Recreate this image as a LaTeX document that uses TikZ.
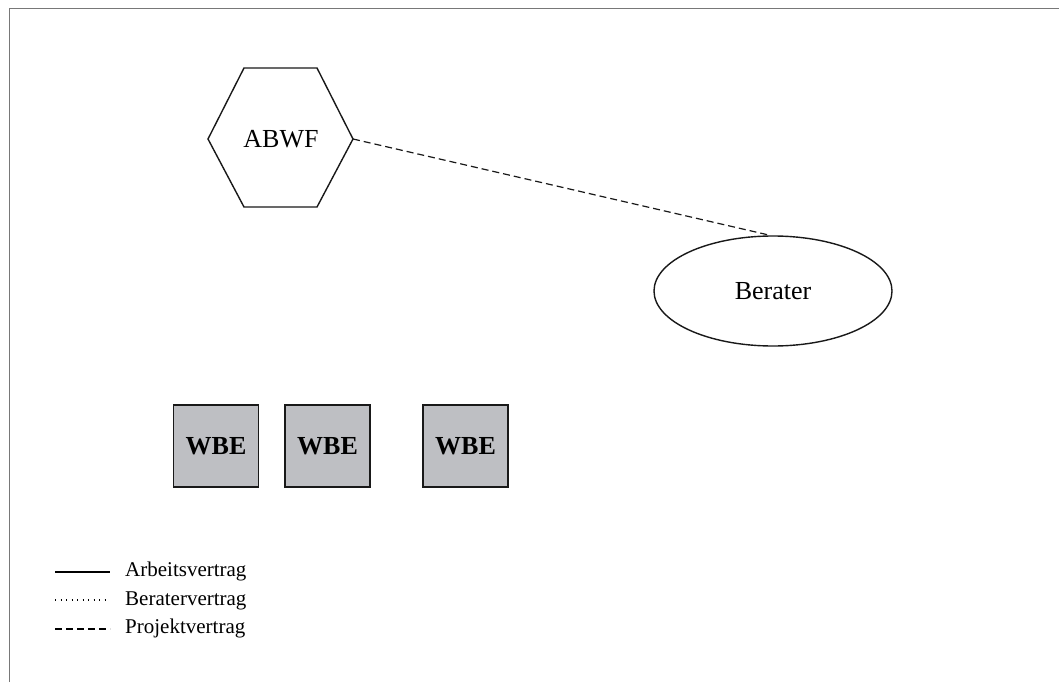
\documentclass[tikz,border=0pt]{standalone}
\usepackage{fontspec}
\setmainfont{Liberation Serif}
\usetikzlibrary{shapes.geometric}
\definecolor{wbegrey}{RGB}{190,191,195}
\definecolor{framegrey}{RGB}{120,120,120}
\begin{document}
\begin{tikzpicture}[x=1pt,y=-1pt,
  shapeline/.style={draw=black!90,line width=1.4pt},
  wbebox/.style={shapeline,fill=wbegrey,minimum width=85pt,minimum height=82pt,
    font=\fontsize{26}{30}\selectfont\bfseries,inner sep=0pt},
  bigtext/.style={font=\fontsize{26}{30}\selectfont},
  legendtext/.style={font=\fontsize{21}{25}\selectfont,anchor=base west,inner sep=0pt},
  legendline/.style={line width=1.2pt},
  projekt/.style={dash pattern=on 7pt off 4pt},
  berater/.style={dash pattern=on 1pt off 4.5pt}]
\useasboundingbox (0,0) rectangle (1059,682);
% frame (top and left edges)
\draw[draw=framegrey,line width=1.8pt] (9.5,682) -- (9.5,8.5) -- (1059,8.5);
% ABWF hexagon
\draw[shapeline] (244,68) -- (317,68) -- (353,139) -- (317,207) -- (244,207) -- (208,139) -- cycle;
\node[bigtext] (abwf) at (281,139) {ABWF};
\coordinate (abwfR) at (353,139);
% Berater ellipse
\node[shapeline,ellipse,minimum width=238pt,minimum height=110pt,bigtext] (ber) at (773,291) {Berater};
% project contract
\draw[shapeline,projekt,line width=1.2pt] (abwfR) -- (ber.93);
% WBE units
\node[wbebox] (w1) at (216,446) {WBE};
\node[wbebox] (w2) at (327.5,446) {WBE};
\node[wbebox] (w3) at (465.5,446) {WBE};
% legend
\coordinate (l1a) at (55,572); \coordinate (l1b) at (110,572);
\coordinate (l2a) at (55,600); \coordinate (l2b) at (110,600);
\coordinate (l3a) at (55,629); \coordinate (l3b) at (110,629);
\draw[legendline] (l1a) -- (l1b);
\draw[legendline,berater] (l2a) -- (l2b);
\draw[legendline,projekt] (l3a) -- (l3b);
\node[legendtext] (t1) at (125,576) {Arbeitsvertrag};
\node[legendtext] (t2) at (125,605) {Beratervertrag};
\node[legendtext] (t3) at (125,633) {Projektvertrag};
\end{tikzpicture}
\end{document}
